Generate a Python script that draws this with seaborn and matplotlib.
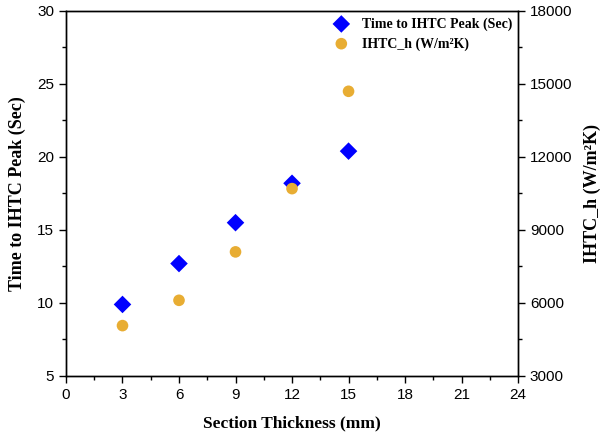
import matplotlib
matplotlib.use('Agg')
import matplotlib.pyplot as plt
from matplotlib.ticker import MultipleLocator
import seaborn as sns
import pandas as pd

# === DATA ===
thickness = [3, 6, 9, 12, 15]
time_to_peak = [9.9, 12.7, 15.5, 18.2, 20.4]
ihtc_h = [5070, 6110, 8100, 10700, 14700]

df = pd.DataFrame({'thickness': thickness, 'time': time_to_peak, 'ihtc': ihtc_h})

sns.set_style('ticks')
plt.rcParams['font.family'] = ['Liberation Sans', 'DejaVu Sans']
plt.rcParams['text.color'] = 'black'
plt.rcParams['axes.labelcolor'] = 'black'

fig = plt.figure(figsize=(6.02, 4.40), dpi=100)
ax = fig.add_axes([0.1096, 0.1455, 0.751, 0.8295])
ax2 = ax.twinx()

sns.scatterplot(data=df, x='thickness', y='time', ax=ax, marker='D', s=80,
                color='#0000FF', edgecolor='none', label='Time to IHTC Peak (Sec)', legend=False)
sns.scatterplot(data=df, x='thickness', y='ihtc', ax=ax2, marker='o', s=70,
                color='#E8AD33', edgecolor='none', label='IHTC_h (W/m\u00b2K)', legend=False)

ax.set_xlim(0, 24)
ax.set_ylim(5, 30)
ax2.set_ylim(3000, 18000)
ax.xaxis.set_major_locator(MultipleLocator(3))
ax.xaxis.set_minor_locator(MultipleLocator(1.5))
ax.yaxis.set_major_locator(MultipleLocator(5))
ax.yaxis.set_minor_locator(MultipleLocator(2.5))
ax2.yaxis.set_major_locator(MultipleLocator(3000))
ax2.yaxis.set_minor_locator(MultipleLocator(1500))

for a in (ax, ax2):
    a.tick_params(which='major', direction='out', length=5, width=1, labelsize=11,
                  colors='black', labelcolor='black')
    a.tick_params(which='minor', direction='out', length=3, width=1, colors='black')
    for sp in a.spines.values():
        sp.set_visible(True)
        sp.set_linewidth(1)
        sp.set_color('black')

serif = ['Liberation Serif', 'DejaVu Serif']
ax.set_xlabel('Section Thickness (mm)', family=serif, weight='bold', size=12.5,
              color='black', labelpad=10)
ax.set_ylabel('Time to IHTC Peak (Sec)', family=serif, weight='bold', size=13,
              color='black', labelpad=8)
ax2.set_ylabel('IHTC_h (W/m\u00b2K)', family=serif, weight='bold', size=13,
               color='black', labelpad=8)

# combined legend for both axes
h1, l1 = ax.get_legend_handles_labels()
h2, l2 = ax2.get_legend_handles_labels()
leg = ax2.legend(h1 + h2, l1 + l2, loc='upper right', bbox_to_anchor=(1.0, 0.998),
                 frameon=False, prop=dict(family=serif, weight='bold', size=10),
                 handletextpad=0.5, borderaxespad=0.0, labelspacing=0.45)

fig.savefig('out.png', dpi=100)
